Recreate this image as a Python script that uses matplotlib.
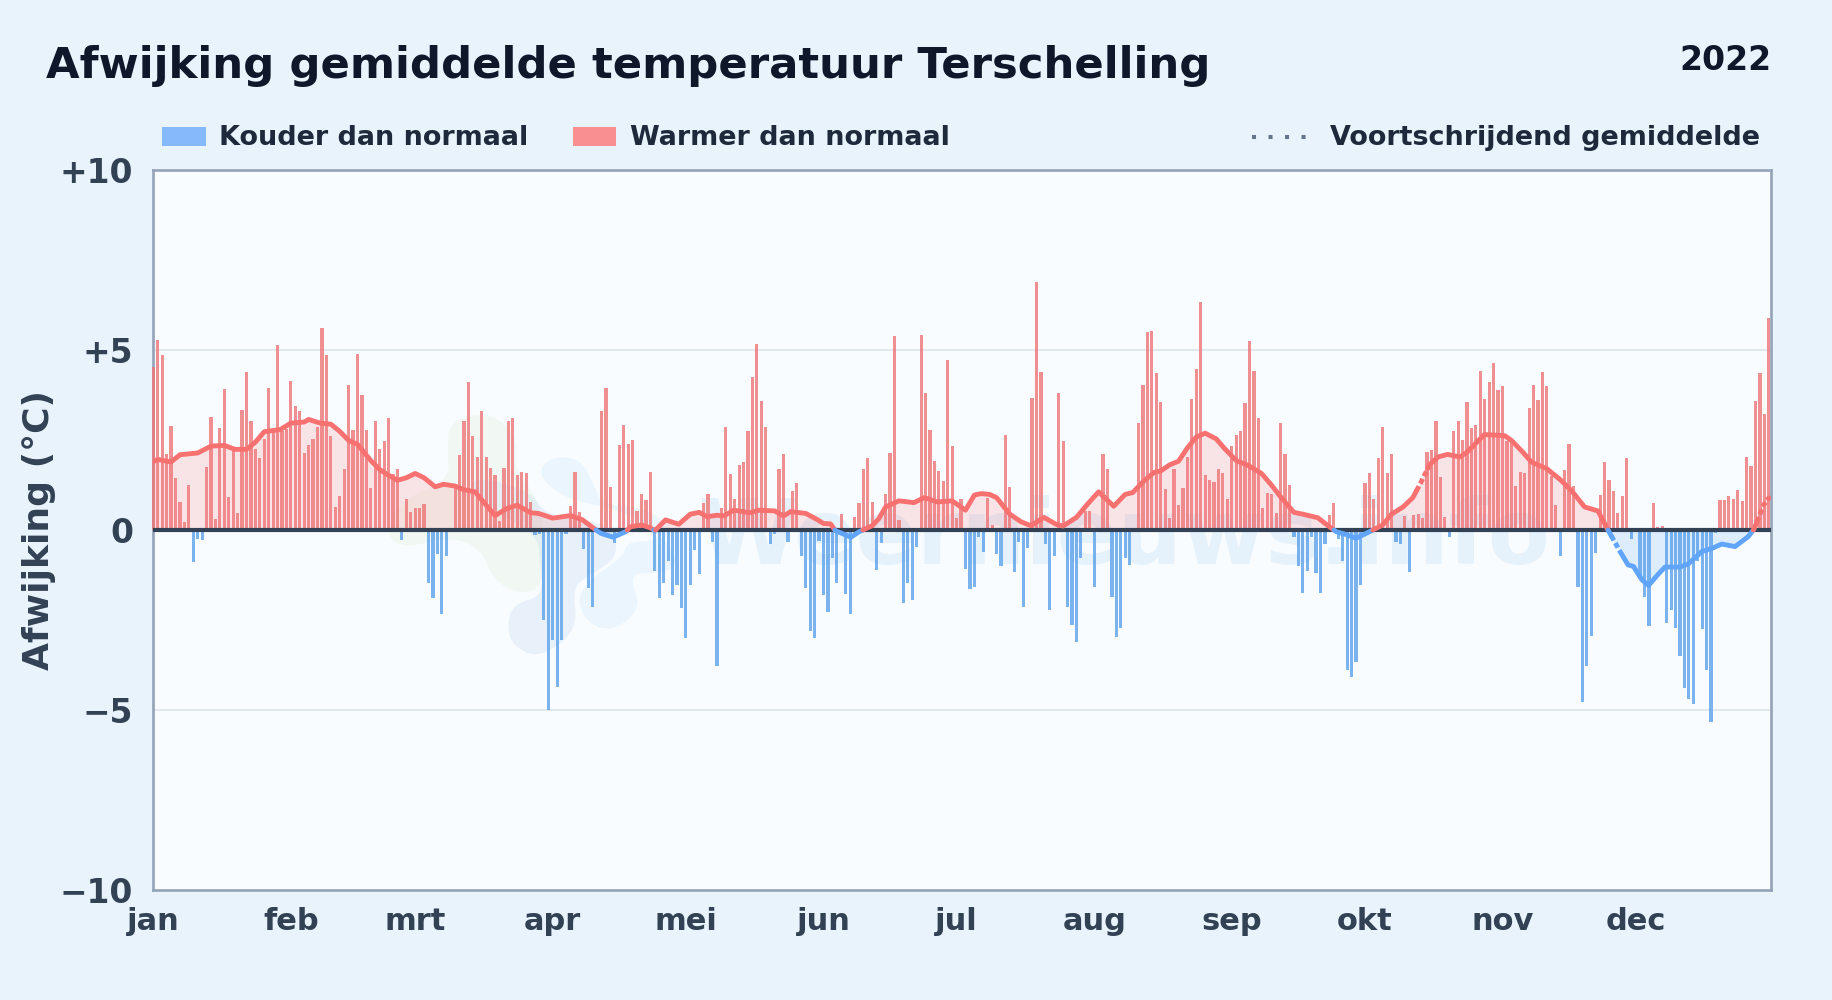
import numpy as np
import matplotlib
matplotlib.use("Agg")
import matplotlib.pyplot as plt
from matplotlib.patches import Rectangle, PathPatch
from matplotlib.path import Path
from matplotlib.lines import Line2D

plt.rcParams['font.family'] = ['DejaVu Sans']

TITLE = "Afwijking gemiddelde temperatuur Terschelling"
YEAR = "2022"
YLABEL = "Afwijking (°C)"
LEG_COLD = "Kouder dan normaal"
LEG_WARM = "Warmer dan normaal"
LEG_AVG = "Voortschrijdend gemiddelde"
WATERMARK = "Weernieuws.info"

month_labels = ["jan", "feb", "mrt", "apr", "mei", "jun", "jul", "aug", "sep", "okt", "nov", "dec"]
month_starts = [0, 31, 59, 90, 120, 151, 181, 212, 243, 273, 304, 334]
y_ticks = [-10, -5, 0, 5, 10]
y_tick_labels = ["\u221210", "\u22125", "0", "+5", "+10"]

deviation = [
    4.53, 5.27, 4.86, 2.1, 2.9, 1.44, .77, .22, 1.24, -.9,
    -.25, -.28, 1.75, 3.15, .3, 2.82, 3.92, .91, 2.2, .47,
    3.34, 4.39, 3.04, 2.25, 2.0, 2.54, 3.95, 2.76, 5.14, 2.76,
    2.8, 4.14, 3.45, 3.31, 2.13, 2.35, 2.54, 2.85, 5.6, 4.86,
    2.6, .64, .94, 1.69, 4.03, 2.79, 4.89, 3.76, 2.79, 1.16,
    3.04, 2.24, 2.46, 3.12, 1.55, 1.69, -.28, .86, .5, .6,
    .6, .72, -1.46, -1.9, -.66, -2.33, -.72, 0, 1.29, 2.07,
    3.04, 4.12, 2.6, 2.04, 3.31, 2.02, 1.71, 1.52, .25, 1.71,
    3.04, 3.12, 1.52, 1.6, 1.57, .77, -.14, -.1, -2.5, -5.0,
    -3.05, -4.35, -3.05, -.1, .66, 1.6, .5, -.52, -1.6, -2.13,
    0, 3.31, 3.95, 1.2, -.35, 2.35, 2.93, 2.38, 2.51, .52,
    .99, .83, 1.6, -1.13, -1.9, -1.48, -.87, -1.81, -1.54, -2.16,
    -3.0, -1.54, -.55, -1.22, .75, 1.01, -.33, -3.77, .6, 2.87,
    1.55, .86, 1.8, 1.9, 2.76, 4.25, 5.17, 3.59, 2.85, -.38,
    -.1, 1.69, 2.1, -.32, 1.08, 1.3, -.71, -1.6, -2.8, -3.0,
    -.3, -1.8, -2.27, -.77, -1.46, .44, -1.77, -2.33, .36, .75,
    1.69, 1.99, .77, -1.1, -.35, 1.0, 2.15, 5.39, .27, -2.04,
    -1.48, -1.95, -.46, 5.41, 3.81, 2.79, 1.93, 1.63, 1.35, 4.72,
    2.32, .33, .86, -1.07, -1.65, -1.57, -.2, -.6, .88, .13,
    -.66, -1.0, 2.65, 1.2, -1.18, -.32, -2.13, -.49, 3.67, 6.88,
    4.39, -.38, -2.22, -.71, 3.81, 2.46, -2.13, -2.64, -3.1, -.77,
    .52, .52, -1.57, 0, 2.1, 1.69, -1.85, -2.96, -2.71, -.77,
    -.97, 0, 2.96, 4.03, 5.5, 5.53, 4.36, 3.56, 1.13, .33,
    1.69, .69, 1.16, 2.02, 3.65, 4.47, 6.33, 1.52, 1.38, 1.33,
    1.69, 1.57, .86, 2.32, 2.65, 2.76, 3.54, 5.25, 4.42, 3.12,
    .6, 1.02, 1.0, .47, 2.96, 2.1, 1.24, -.2, -1.0, -1.75,
    -1.15, -.2, -1.2, -1.75, -.38, .41, .76, -.24, -.87, -3.89,
    -4.07, -3.66, -1.54, 1.3, 1.57, .86, 1.99, 2.85, 1.57, 2.1,
    -.33, -.38, .39, -1.18, .41, .44, .33, 2.18, 2.21, 3.04,
    1.46, .36, -.19, 2.76, 3.04, 2.49, 3.56, 2.82, 2.93, 4.42,
    3.65, 4.12, 4.64, 3.9, 4.01, 2.46, 2.45, 1.22, 1.6, 1.57,
    3.4, 4.03, 3.62, 4.39, 4.01, 1.5, .69, -.71, 1.66, 2.4,
    1.22, -1.57, -4.79, -3.77, -2.94, -.63, .97, 1.88, 1.38, 1.08,
    .47, .94, 1.99, -.26, 0, -1.3, -1.87, -2.66, .75, .07,
    .11, -2.57, -2.22, -2.71, -3.49, -4.38, -4.69, -4.84, -.87, -2.76,
    -3.9, -5.34, -.09, .83, .83, .94, .86, 1.1, .8, 2.04,
    1.77, 3.59, 4.36, 3.23, 5.88,
]

avg_days = [
    0, 1, 4, 6, 10, 13, 16, 18.4, 21, 23, 25, 28.6, 31, 34, 35, 37.6, 40, 42, 44, 46,
    49, 51, 53, 55, 57, 59, 61, 63.5, 65.4, 68, 70, 72.5, 75, 77, 79.7, 82, 85, 86.8,
    90, 94, 96.6, 99.2, 100.8, 103.6, 106.4, 107.5, 110, 112, 113, 115.4, 118.4, 121, 123,
    124.8, 127, 128.5, 130.8, 134.4, 136.5, 140, 142, 143.6, 147, 149.6, 151, 152.6, 153.7,
    157.2, 159, 162, 163.5, 165, 168, 171.4, 173.7, 176.7, 180, 183, 185, 186.5, 188.4, 190,
    193, 195.5, 197.7, 200.7, 203.4, 205, 208, 210.5, 213, 216.4, 219, 220.7, 223, 225.5,
    227, 229, 231, 233, 235, 237, 239.5, 241.4, 244, 246.6, 249.7, 252, 254, 257, 259,
    262.4, 265, 266.6, 268.4, 271, 274, 277, 279, 281.6, 283.8, 285.7, 287.6, 289.5, 291.6,
    294.4, 296, 299.9, 304.5, 306, 308.6, 310.5, 314, 317, 319.5, 322.5, 325.5, 327, 328,
    330.5, 332.3, 333.5, 335.4, 336.9, 339, 340.6, 344, 345.9, 348.9, 351, 353.4, 356.4,
    359.4, 360.7, 362.8, 364,
]
avg_values = [
    1.9, 1.96, 1.89, 2.09, 2.14, 2.33, 2.35, 2.24, 2.24, 2.44, 2.73, 2.79, 2.97, 3.0, 3.07, 2.97, 2.94, 2.74, 2.49, 2.38,
    1.93, 1.68, 1.52, 1.38, 1.45, 1.57, 1.45, 1.2, 1.27, 1.22, 1.12, 1.06, .69, .4, .6, .69, .48, .46,
    .33, .4, .29, .05, -.09, -.2, -.05, .09, .14, .06, -.02, .28, .16, .44, .49,
    .37, .41, .39, .55, .48, .55, .53, .39, .51, .46, .29, .18, .17, -.02,
    -.2, -.05, .12, .32, .64, .81, .76, .9, .78, .81, .55, .97, 1.01, .99, .9,
    .44, .23, .12, .35, .16, .11, .35, .72, 1.06, .66, .99, 1.04, 1.34, 1.6,
    1.64, 1.81, 1.91, 2.28, 2.58, 2.69, 2.53, 2.26, 1.93, 1.8, 1.57, 1.24, .92, .49, .44,
    .34, .09, -.05, -.11, -.23, -.05, .14, .44, .64, .9, 1.34, 1.82, 2.03, 2.1,
    2.03, 2.16, 2.65, 2.62, 2.49, 2.16, 1.89, 1.7, 1.4, 1.1, .64, .53, .18, -.05,
    -.6, -.97, -1.01, -1.38, -1.54, -1.24, -1.03, -1.03, -.94, -.6, -.52, -.39, -.46,
    -.18, .03, .69, .89,
]
dashed_spans = [(284.6, 287.2), (328.5, 330.8), (361.3, 363.9)]

assert len(deviation) == 365 and len(avg_days) == len(avg_values)

W, H = 1832, 1000
AX_L, AX_R, AX_T, AX_B = 152.7, 1771, 170, 890

BG = "#e8f3fc"
PLOT_BG = "#f8fcff"
RED = "#f87171"
BLUE = "#60a5fa"
BAR_RED = "#ef7476"
BAR_BLUE = "#5ba1ea"
INK = "#0f172a"
INK2 = "#1e293b"
INK3 = "#334155"


def fx(x):
    return x / W


def fy(y):
    return 1 - y / H


fig = plt.figure(figsize=(W / 100, H / 100), dpi=100, facecolor=BG)
ax = fig.add_axes([fx(AX_L), fy(AX_B), (AX_R - AX_L) / W, (AX_B - AX_T) / H], facecolor=PLOT_BG)


def blob(points, color, alpha):
    pts = [(fx(380 + a / 3), fy(400 + b / 3)) for a, b in points]
    n = len(pts)
    mids = [((pts[i][0] + pts[(i + 1) % n][0]) / 2, (pts[i][1] + pts[(i + 1) % n][1]) / 2) for i in range(n)]
    verts = [mids[-1]]
    codes = [Path.MOVETO]
    for i in range(n):
        verts += [pts[i], mids[i]]
        codes += [Path.CURVE3, Path.CURVE3]
    ax.add_patch(PathPatch(Path(verts, codes), transform=fig.transFigure, facecolor=color,
                           edgecolor="none", alpha=alpha, zorder=0.5))


blob([(210, 60), (330, 35), (415, 110), (400, 200), (470, 290), (495, 395), (490, 560), (420, 585),
      (340, 540), (300, 440), (200, 410), (80, 445), (15, 410), (60, 300), (210, 240), (200, 150)],
     "#e4f2d8", 0.3)
blob([(380, 680), (400, 610), (490, 590), (480, 480), (470, 400), (280, 300), (270, 225), (450, 270),
      (500, 350), (700, 370), (715, 470), (640, 520), (575, 560), (595, 690), (480, 775), (400, 740)],
     "#c5d9ee", 0.3)
blob([(470, 225), (510, 170), (600, 175), (640, 250), (665, 315), (780, 320), (865, 370), (830, 425),
      (740, 425), (730, 470), (640, 530), (590, 590), (620, 670), (700, 695), (785, 625), (745, 520),
      (830, 520), (900, 500), (860, 420), (730, 330), (560, 300)],
     "#d3e9fb", 0.35)
ax.text(fx(1124), fy(539), WATERMARK, transform=fig.transFigure, fontsize=65, fontweight="bold",
        color="#bcd9f2", alpha=0.3, ha="center", va="center", zorder=0.6, clip_on=True)

days = np.arange(len(deviation))
values = np.array(deviation)
ax.grid(False)
for tick in [-5, 5]:
    ax.axhline(tick, color="#e2e8f0", lw=1.4, zorder=1)

colors = [BAR_RED if v >= 0 else BAR_BLUE for v in values]
bars = ax.bar(days, values, width=0.72, color=colors, alpha=0.8, linewidth=0, zorder=2)
for b in bars:
    b.set_clip_on(False)

xa = np.array(avg_days, dtype=float)
ya = np.array(avg_values, dtype=float)
ax.fill_between(xa, ya, 0, where=ya >= 0, interpolate=True, color=RED, alpha=0.17, linewidth=0, zorder=1.5)
ax.fill_between(xa, ya, 0, where=ya <= 0, interpolate=True, color=BLUE, alpha=0.17, linewidth=0, zorder=1.5)

ax.axhline(0, color=INK3, lw=3.0, zorder=3)

# split the average at zero crossings and dashed spans so each piece takes its colour and style
breaks = list(xa)
for i in range(len(xa) - 1):
    if ya[i] * ya[i + 1] < 0:
        breaks.append(xa[i] + (xa[i + 1] - xa[i]) * (-ya[i]) / (ya[i + 1] - ya[i]))
for a, b in dashed_spans:
    breaks += [a, b]
xs = np.array(sorted(set(breaks)))
ys = np.interp(xs, xa, ya)
start = 0
pieces = []
for i in range(1, len(xs)):
    mid = (xs[i - 1] + xs[i]) / 2
    key = (np.interp(mid, xa, ya) >= 0, any(a <= mid <= b for a, b in dashed_spans))
    if i == 1:
        cur = key
    if key != cur:
        pieces.append((start, i - 1, cur))
        start = i - 1
        cur = key
pieces.append((start, len(xs) - 1, cur))
for s, e, (pos, dash) in pieces:
    ax.plot(xs[s:e + 1], ys[s:e + 1], color=RED if pos else BLUE, lw=3.5,
            linestyle=(0, (1.1, 0.6)) if dash else "-", solid_joinstyle="round",
            solid_capstyle="round", zorder=4)

ax.set_xlim(-0.14, 364.5)
ax.set_ylim(-10, 10)
ax.set_xticks(month_starts)
ax.set_xticklabels(month_labels, fontsize=22, fontweight="bold", color=INK3)
ax.set_yticks(y_ticks)
ax.set_yticklabels(y_tick_labels, fontsize=23.7, fontweight="bold", color=INK3)
ax.tick_params(axis="x", length=0, pad=12.4)
ax.tick_params(axis="y", length=0, pad=14)
for spine in ax.spines.values():
    spine.set_color("#94a3b8")
    spine.set_linewidth(1.9)
    spine.set_zorder(1.8)

fig.text(fx(39), fy(530), YLABEL, rotation=90, fontsize=26, fontweight="bold", color=INK3,
         ha="center", va="center")
fig.text(fx(46), fy(66), TITLE, fontsize=31.2, fontweight="bold", color=INK, ha="left", va="center")
fig.text(fx(1771), fy(61), YEAR, fontsize=23.8, fontweight="bold", color=INK, ha="right", va="center")

for x0, x1, c in [(162, 206, "#84b9fb"), (573, 616, "#f98f90")]:
    fig.add_artist(Rectangle((fx(x0), fy(146)), (x1 - x0) / W, 19 / H, transform=fig.transFigure,
                             facecolor=c, edgecolor="none"))
fig.text(fx(219), fy(138), LEG_COLD, fontsize=19.45, fontweight="bold", color=INK2, ha="left", va="center")
fig.text(fx(630), fy(138), LEG_WARM, fontsize=19.45, fontweight="bold", color=INK2, ha="left", va="center")
fig.add_artist(Line2D([fx(1252), fx(1309)], [fy(137), fy(137)], transform=fig.transFigure, color="#64748b",
                      lw=2.9, linestyle=(0, (1, 3.1))))
fig.text(fx(1330), fy(138), LEG_AVG, fontsize=19.45, fontweight="bold", color=INK2, ha="left", va="center")

fig.savefig("out.png", dpi=100, facecolor=BG)
